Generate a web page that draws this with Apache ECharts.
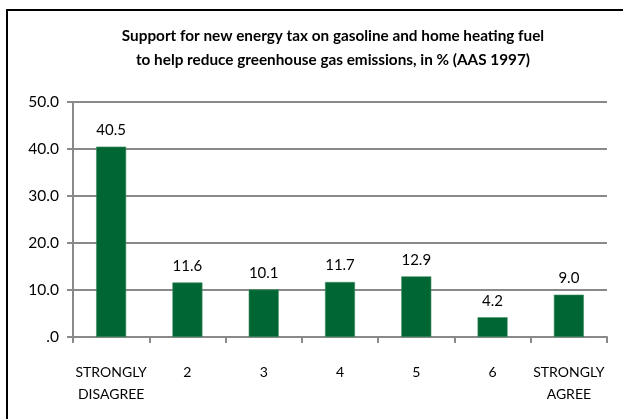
<!DOCTYPE html>
<html>
<head>
<meta charset="utf-8">
<script src="https://cdn.jsdelivr.net/npm/echarts@6/dist/echarts.min.js"></script>
<style>
html,body{margin:0;padding:0;background:#fff;}
#c{width:623px;height:419px;}
</style>
</head>
<body>
<div id="c"></div>
<script>
var categories = ['STRONGLY\nDISAGREE', '2', '3', '4', '5', '6', 'STRONGLY\nAGREE'];
var values = [40.5, 11.6, 10.1, 11.7, 12.9, 4.2, 9.0];
var titleLines = ['Support for new energy tax on gasoline and home heating fuel', 'to help reduce greenhouse gas emissions, in % (AAS 1997)'];

var chart = echarts.init(document.getElementById('c'), null, {renderer: 'canvas'});
var FONT = 'Lato, "Open Sans", sans-serif';
chart.setOption({
  animation: false,
  backgroundColor: '#fff',
  textStyle: {fontFamily: FONT},
  title: {
    text: titleLines.join('\n'),
    left: 328,
    top: 19,
    textAlign: 'center',
    textStyle: {fontFamily: FONT, fontWeight: 'bold', fontSize: 15.3, lineHeight: 24, color: '#000'}
  },
  graphic: [{
    type: 'rect',
    shape: {x: 7, y: 10, width: 640, height: 440},
    style: {fill: 'none', stroke: '#000', lineWidth: 2},
    silent: true
  }],
  grid: {left: 73, right: 16, top: 102, bottom: 82, containLabel: false},
  xAxis: {
    type: 'category',
    data: categories,
    boundaryGap: true,
    axisLine: {show: true, lineStyle: {color: '#898989', width: 2}},
    axisTick: {show: true, length: 6, alignWithLabel: false, lineStyle: {color: '#898989', width: 2}},
    axisLabel: {color: '#000', fontSize: 14, lineHeight: 22, margin: 24, interval: 0, fontFamily: FONT}
  },
  yAxis: {
    type: 'value',
    min: 0, max: 50, interval: 10,
    axisLine: {show: true, lineStyle: {color: '#898989', width: 2}},
    axisTick: {show: true, length: 6, lineStyle: {color: '#898989', width: 2}},
    splitLine: {show: true, lineStyle: {color: '#898989', width: 2}},
    axisLabel: {
      color: '#000', fontSize: 15.5, margin: 14, fontFamily: FONT,
      formatter: function (v) { return v === 0 ? '.0' : v.toFixed(1); }
    }
  },
  series: [{
    type: 'bar',
    data: values,
    barWidth: 30,
    itemStyle: {color: '#006633', borderColor: '#3f8f5e', borderWidth: 0.6},
    label: {
      show: true, position: 'top', distance: 9, color: '#000', fontSize: 15, fontFamily: FONT,
      formatter: function (p) { return p.value.toFixed(1); }
    }
  }]
});
</script>
</body>
</html>
